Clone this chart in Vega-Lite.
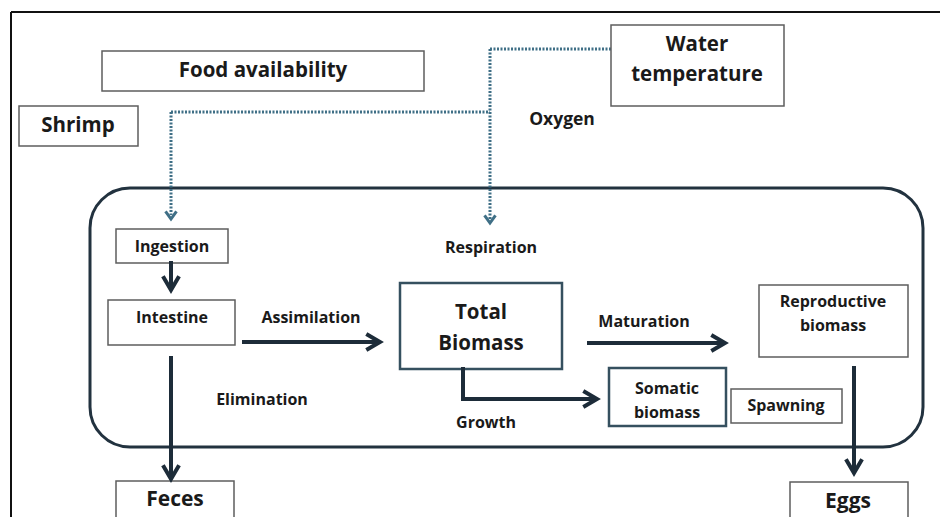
{
  "$schema": "https://vega.github.io/schema/vega-lite/v6.json",
  "width": 940,
  "height": 517,
  "autosize": "none",
  "padding": 0,
  "background": "white",
  "config": {"view": {"stroke": null}},
  "datasets": {
    "frame": [
      {"x": 11, "y": 12, "x2": 945, "y2": 12},
      {"x": 11, "y": 12, "x2": 11, "y2": 530}
    ],
    "container": [{"x": 90, "y": 188, "x2": 923, "y2": 447}],
    "boxes": [
      {"name": "Food availability", "x": 102, "x2": 424, "y": 51, "y2": 91, "kind": "thin"},
      {"name": "Shrimp", "x": 19, "x2": 138, "y": 106, "y2": 146, "kind": "thin"},
      {"name": "Water temperature", "x": 611, "x2": 784, "y": 25, "y2": 106, "kind": "thin"},
      {"name": "Ingestion", "x": 116, "x2": 228, "y": 229, "y2": 263, "kind": "thin"},
      {"name": "Intestine", "x": 108, "x2": 235, "y": 300, "y2": 345, "kind": "thin"},
      {"name": "Reproductive biomass", "x": 759, "x2": 908, "y": 285, "y2": 357, "kind": "thin"},
      {"name": "Spawning", "x": 731, "x2": 842, "y": 389, "y2": 423, "kind": "thin"},
      {"name": "Feces", "x": 116, "x2": 234, "y": 481, "y2": 530, "kind": "thin"},
      {"name": "Eggs", "x": 790, "x2": 908, "y": 482, "y2": 530, "kind": "thin"},
      {"name": "Total Biomass", "x": 400, "x2": 562, "y": 283, "y2": 369, "kind": "thick"},
      {"name": "Somatic biomass", "x": 609, "x2": 726, "y": 368, "y2": 426, "kind": "thick"}
    ],
    "solid": [
      {"x": 171, "y": 263, "x2": 171, "y2": 288},
      {"x": 244, "y": 342, "x2": 377, "y2": 342},
      {"x": 171, "y": 358, "x2": 171, "y2": 477},
      {"x": 463, "y": 369, "x2": 463, "y2": 399},
      {"x": 463, "y": 399, "x2": 594, "y2": 399},
      {"x": 589, "y": 343, "x2": 722, "y2": 343},
      {"x": 854, "y": 368, "x2": 854, "y2": 470}
    ],
    "dotted": [
      {"x": 171, "y": 112, "x2": 490, "y2": 112},
      {"x": 171, "y": 112, "x2": 171, "y2": 215},
      {"x": 490, "y": 49, "x2": 611, "y2": 49},
      {"x": 490, "y": 49, "x2": 490, "y2": 219}
    ],
    "solidHeads": [
      {"x": 171, "y": 290, "angle": 90},
      {"x": 380, "y": 342, "angle": 0},
      {"x": 171, "y": 479, "angle": 90},
      {"x": 597, "y": 399, "angle": 0},
      {"x": 725, "y": 343, "angle": 0},
      {"x": 854, "y": 473, "angle": 90}
    ],
    "dottedHeads": [
      {"x": 171, "y": 219, "angle": 90},
      {"x": 490, "y": 223, "angle": 90}
    ],
    "labels": [
      {"t": "Food availability", "x": 263, "y": 71, "s": 20.5},
      {"t": "Shrimp", "x": 78, "y": 126, "s": 20.5},
      {"t": "Water", "x": 697, "y": 45, "s": 20.5},
      {"t": "temperature", "x": 697, "y": 75, "s": 20.5},
      {"t": "Oxygen", "x": 562, "y": 120, "s": 17.5},
      {"t": "Ingestion", "x": 172, "y": 247, "s": 16},
      {"t": "Respiration", "x": 491, "y": 248, "s": 16},
      {"t": "Intestine", "x": 172, "y": 318, "s": 16},
      {"t": "Assimilation", "x": 311, "y": 318, "s": 16},
      {"t": "Total", "x": 481, "y": 313, "s": 20.5},
      {"t": "Biomass", "x": 481, "y": 344, "s": 20.5},
      {"t": "Maturation", "x": 644, "y": 322, "s": 16},
      {"t": "Reproductive", "x": 833, "y": 302, "s": 16},
      {"t": "biomass", "x": 833, "y": 326, "s": 16},
      {"t": "Elimination", "x": 262, "y": 400, "s": 16},
      {"t": "Growth", "x": 486, "y": 423, "s": 16},
      {"t": "Somatic", "x": 667, "y": 389, "s": 16},
      {"t": "biomass", "x": 667, "y": 413, "s": 16},
      {"t": "Spawning", "x": 786, "y": 406, "s": 16},
      {"t": "Feces", "x": 175, "y": 500, "s": 21},
      {"t": "Eggs", "x": 848, "y": 502, "s": 21}
    ]
  },
  "layer": [
    {
      "data": {"name": "frame"},
      "mark": {"type": "rule", "color": "#111111", "strokeWidth": 2},
      "encoding": {
        "x": {"field": "x", "type": "quantitative", "scale": {"domain": [0, 940], "nice": false, "zero": false}, "axis": null},
        "y": {"field": "y", "type": "quantitative", "scale": {"domain": [0, 517], "reverse": true, "nice": false, "zero": false}, "axis": null},
        "x2": {"field": "x2"},
        "y2": {"field": "y2"}
      }
    },
    {
      "data": {"name": "container"},
      "mark": {"type": "rect", "fill": null, "fillOpacity": 0, "stroke": "#22323f", "strokeWidth": 3, "cornerRadius": 40},
      "encoding": {
        "x": {"field": "x", "type": "quantitative"},
        "y": {"field": "y", "type": "quantitative"},
        "x2": {"field": "x2"},
        "y2": {"field": "y2"}
      }
    },
    {
      "data": {"name": "dotted"},
      "mark": {"type": "rule", "color": "#3f6f86", "strokeWidth": 3, "strokeDash": [2, 1.5]},
      "encoding": {
        "x": {"field": "x", "type": "quantitative"},
        "y": {"field": "y", "type": "quantitative"},
        "x2": {"field": "x2"},
        "y2": {"field": "y2"}
      }
    },
    {
      "data": {"name": "boxes"},
      "mark": {"type": "rect", "fill": "white"},
      "encoding": {
        "x": {"field": "x", "type": "quantitative"},
        "y": {"field": "y", "type": "quantitative"},
        "x2": {"field": "x2"},
        "y2": {"field": "y2"},
        "stroke": {"field": "kind", "type": "nominal", "scale": {"domain": ["thin", "thick"], "range": ["#5e5e5e", "#35505f"]}, "legend": null},
        "strokeWidth": {"field": "kind", "type": "nominal", "scale": {"domain": ["thin", "thick"], "range": [1.5, 2.5]}, "legend": null}
      }
    },
    {
      "data": {"name": "solid"},
      "mark": {"type": "rule", "color": "#1d2c39", "strokeWidth": 4, "strokeCap": "square"},
      "encoding": {
        "x": {"field": "x", "type": "quantitative"},
        "y": {"field": "y", "type": "quantitative"},
        "x2": {"field": "x2"},
        "y2": {"field": "y2"}
      }
    },
    {
      "data": {"name": "solidHeads"},
      "mark": {"type": "point", "shape": "M-1.7,-1L0,0L-1.7,1", "filled": false, "stroke": "#1d2c39", "strokeWidth": 4, "size": 260, "opacity": 1, "strokeJoin": "miter"},
      "encoding": {
        "x": {"field": "x", "type": "quantitative"},
        "y": {"field": "y", "type": "quantitative"},
        "angle": {"field": "angle", "type": "quantitative", "scale": null}
      }
    },
    {
      "data": {"name": "dottedHeads"},
      "mark": {"type": "point", "shape": "M-1.4,-1L0,0L-1.4,1", "filled": false, "stroke": "#3f6f86", "strokeWidth": 3, "size": 120, "opacity": 1},
      "encoding": {
        "x": {"field": "x", "type": "quantitative"},
        "y": {"field": "y", "type": "quantitative"},
        "angle": {"field": "angle", "type": "quantitative", "scale": null}
      }
    },
    {
      "data": {"name": "labels"},
      "mark": {"type": "text", "font": "Open Sans", "fontWeight": "bold", "color": "#1a1a1a", "baseline": "middle", "align": "center"},
      "encoding": {
        "x": {"field": "x", "type": "quantitative"},
        "y": {"field": "y", "type": "quantitative"},
        "text": {"field": "t"},
        "size": {"field": "s", "type": "quantitative", "scale": null}
      }
    }
  ]
}
